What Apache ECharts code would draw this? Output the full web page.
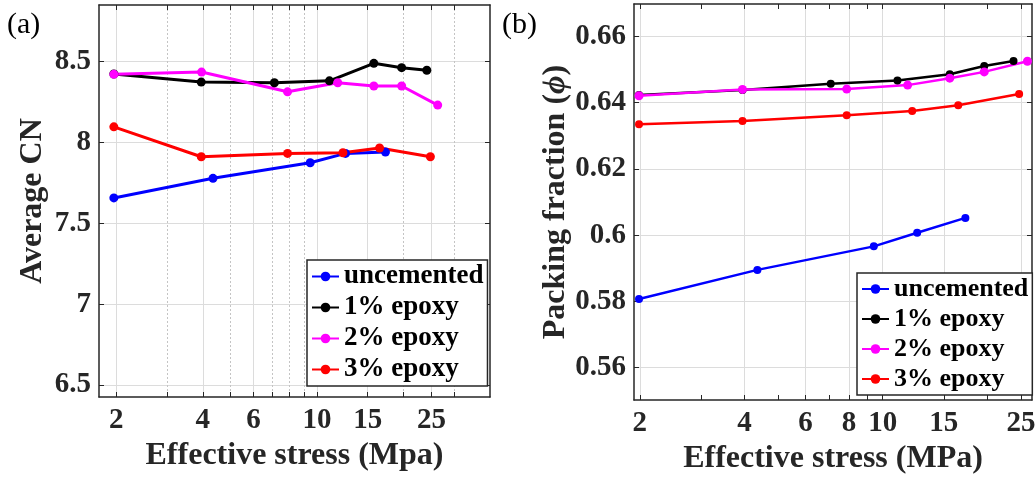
<!DOCTYPE html>
<html><head><meta charset="utf-8">
<script src="https://cdn.jsdelivr.net/npm/echarts@6/dist/echarts.min.js"></script>
<style>html,body{margin:0;padding:0;background:#fff}#c{width:1035px;height:483px}</style>
</head><body><div id="c"></div>
<script>
// ---------- data ----------
const seriesNames = ['uncemented', '1% epoxy', '2% epoxy', '3% epoxy'];
const seriesColors = ['#0000ff', '#000000', '#ff00ff', '#ff0000'];

// Panel (a): Average CN vs effective stress (MPa)
const cnUncemented = [[1.96,7.655],[4.34,7.776],[9.46,7.872],[12.56,7.930],[17.3,7.938]];
const cnEpoxy1 = [[1.96,8.420],[3.95,8.370],[7.10,8.366],[11.04,8.378],[15.76,8.486],[19.7,8.459],[24.1,8.443]];
const cnEpoxy2 = [[1.96,8.418],[3.96,8.432],[7.89,8.310],[11.8,8.366],[15.76,8.346],[19.7,8.346],[26.3,8.228]];
const cnEpoxy3 = [[1.96,8.094],[3.95,7.909],[7.89,7.930],[12.3,7.934],[16.5,7.963],[24.8,7.909]];

// Panel (b): packing fraction vs effective stress (MPa)
const phiUncemented = [[1.99,0.5807],[4.36,0.5895],[9.43,0.5966],[12.57,0.6007],[17.3,0.6052]];
const phiEpoxy1 = [[1.99,0.6423],[3.95,0.6438],[7.09,0.6457],[11.03,0.6467],[15.6,0.6486],[19.6,0.6511],[23.8,0.6526]];
const phiEpoxy2 = [[1.99,0.6421],[3.95,0.6440],[7.88,0.6441],[11.8,0.6453],[15.6,0.6474],[19.6,0.6493],[26.1,0.6525]];
const phiEpoxy3 = [[1.99,0.6335],[3.95,0.6345],[7.88,0.6362],[12.16,0.6375],[16.5,0.6392],[24.7,0.6426]];

// tick labels
const xMajorA = [2, 4, 6, 10, 15, 25];
const xMinorA = [3, 5, 7, 8, 9, 20, 30];
const xMajorB = [2, 4, 6, 8, 10, 15, 25];
const xMinorB = [3, 5, 7, 9, 20];
const yTicksA = [6.5, 7, 7.5, 8, 8.5];
const yTicksB = [0.56, 0.58, 0.6, 0.62, 0.64, 0.66];

// ---------- chart ----------
const FONT = 'Liberation Serif';
const AX = '#262626';
const L10 = Math.log10;

function xAxesFor(gi, min, max, major, minor, name, minorGrid) {
  const lmin = L10(min), lmax = L10(max);
  const all = major.concat(minor).map(L10);
  const arr = [
    { type: 'log', logBase: 10, gridIndex: gi, min: min, max: max, show: false },
    { type: 'value', gridIndex: gi, min: lmin, max: lmax, position: 'bottom',
      axisLine: { show: true, onZero: false, lineStyle: { color: AX, width: 1.5 } },
      axisTick: { show: true, inside: true, length: 5, customValues: all, lineStyle: { color: AX, width: 1 } },
      axisLabel: { show: true, customValues: major.map(L10), margin: 9,
        formatter: v => String(Math.round(Math.pow(10, v))),
        fontFamily: FONT, fontWeight: 'bold', fontSize: 29, color: AX },
      splitLine: { show: false },
      name: name, nameLocation: 'middle', nameGap: 40,
      nameTextStyle: { fontFamily: FONT, fontWeight: 'bold', fontSize: 32, color: AX } },
    { type: 'value', gridIndex: gi, min: lmin, max: lmax, position: 'bottom',
      axisLine: { show: false }, axisTick: { show: false, customValues: major.map(L10) },
      axisLabel: { show: false }, splitLine: { show: true, lineStyle: { color: '#dcdcdc', width: 1 } } },
    { type: 'value', gridIndex: gi, min: lmin, max: lmax, position: 'top',
      axisLine: { show: true, onZero: false, lineStyle: { color: AX, width: 1.5 } },
      axisTick: { show: true, inside: true, length: 5, customValues: all, lineStyle: { color: AX, width: 1 } },
      axisLabel: { show: false }, splitLine: { show: false } }
  ];
  if (minorGrid) {
    arr.push({ type: 'value', gridIndex: gi, min: lmin, max: lmax, position: 'bottom',
      axisLine: { show: false }, axisTick: { show: false, customValues: minor.map(L10) },
      axisLabel: { show: false },
      splitLine: { show: true, lineStyle: { color: '#c4c4c4', width: 1, type: [2, 2] } } });
  }
  return arr;
}

function yAxesFor(gi, min, max, ticks, name, nameGap) {
  return [
    { type: 'value', gridIndex: gi, min: min, max: max, position: 'left',
      axisLine: { show: true, onZero: false, lineStyle: { color: AX, width: 1.5 } },
      axisTick: { show: true, inside: true, length: 5, customValues: ticks, lineStyle: { color: AX, width: 1 } },
      axisLabel: { show: true, customValues: ticks, margin: 8, formatter: v => String(v),
        fontFamily: FONT, fontWeight: 'bold', fontSize: 29, color: AX },
      splitLine: { show: true, lineStyle: { color: '#dcdcdc', width: 1 } },
      name: name, nameLocation: 'middle', nameGap: nameGap,
      nameTextStyle: { fontFamily: FONT, fontWeight: 'bold', fontSize: 32, color: AX,
        rich: { i: { fontFamily: FONT, fontStyle: 'italic', fontWeight: 'bold', fontSize: 32, color: AX } } } },
    { type: 'value', gridIndex: gi, min: min, max: max, position: 'right',
      axisLine: { show: true, onZero: false, lineStyle: { color: AX, width: 1.5 } },
      axisTick: { show: true, inside: true, length: 5, customValues: ticks, lineStyle: { color: AX, width: 1 } },
      axisLabel: { show: false }, splitLine: { show: false } }
  ];
}

const xA = xAxesFor(0, 1.74, 40, xMajorA, xMinorA, 'Effective stress (Mpa)', true);
const xB = xAxesFor(1, 1.925, 26.9, xMajorB, xMinorB, 'Effective stress (MPa)', false);
const xAxes = xA.concat(xB);
const xLogA = 0, xLogB = xA.length;

const yAxes = yAxesFor(0, 6.426, 8.846, yTicksA, 'Average CN', 50)
  .concat(yAxesFor(1, 0.5502, 0.6698, yTicksB, 'Packing fraction ({i|ϕ})', 60));

function mkSeries(name, data, color, xi, yi, lw, sz) {
  return { type: 'line', name: name, data: data, xAxisIndex: xi, yAxisIndex: yi,
    symbol: 'circle', symbolSize: sz, showSymbol: true,
    lineStyle: { color: color, width: lw }, itemStyle: { color: color },
    emphasis: { disabled: true }, silent: true };
}

const panelA = [cnUncemented, cnEpoxy1, cnEpoxy2, cnEpoxy3];
const panelB = [phiUncemented, phiEpoxy1, phiEpoxy2, phiEpoxy3];
const series = [];
panelA.forEach((d, i) => series.push(mkSeries(seriesNames[i], d, seriesColors[i], xLogA, 0, 3, 9)));
panelB.forEach((d, i) => series.push(mkSeries(seriesNames[i], d, seriesColors[i], xLogB, 2, 2.5, i === 2 ? 9 : 8)));

function legendAt(left, top, fs) {
  return { orient: 'vertical', left: left, top: top, data: seriesNames, align: 'left',
    backgroundColor: '#fff', borderColor: AX, borderWidth: 1.5, padding: [3, 4],
    itemGap: 4, itemWidth: 27, itemHeight: 12, selectedMode: false,
    textStyle: { fontFamily: FONT, fontWeight: 'bold', fontSize: fs, color: '#000', lineHeight: fs } };
}

const chart = echarts.init(document.getElementById('c'), null, { renderer: 'canvas' });
chart.setOption({
  animation: false,
  backgroundColor: '#fff',
  grid: [
    { left: 99, top: 5, width: 391, height: 392, outerBoundsMode: 'none' },
    { left: 634, top: 4, width: 398, height: 396, outerBoundsMode: 'none' }
  ],
  xAxis: xAxes,
  yAxis: yAxes,
  legend: [legendAt(307, 260, 27), legendAt(857, 273, 26)],
  graphic: [
    { type: 'text', left: 7, top: 10, style: { text: '(a)', font: '30px "Liberation Serif"', fill: '#000' } },
    { type: 'text', left: 502, top: 10, style: { text: '(b)', font: '30px "Liberation Serif"', fill: '#000' } }
  ],
  series: series
});
</script></body></html>
